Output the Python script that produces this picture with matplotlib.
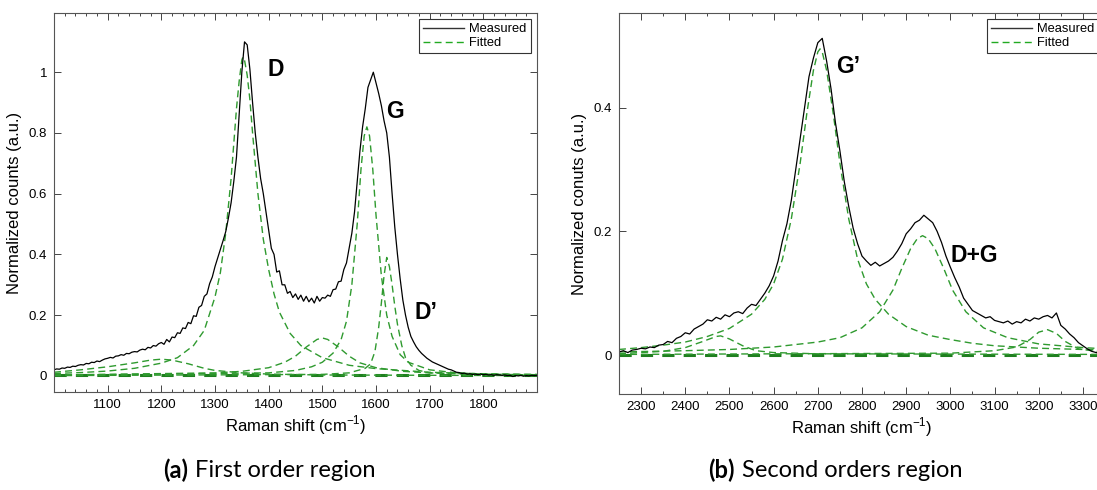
import numpy as np
from matplotlib import pyplot as plt
from matplotlib.ticker import MultipleLocator, FormatStrFormatter

plt.rcParams['font.family'] = ['Liberation Sans', 'DejaVu Sans']
plt.rcParams['mathtext.fontset'] = 'custom'
plt.rcParams['mathtext.rm'] = 'Liberation Sans'

# ---------------- first order region (a) ----------------
meas1_x = np.arange(1000, 1901, 5)
meas1_y = [
    0.020, 0.023, 0.022, 0.026, 0.025, 0.029, 0.028, 0.032, 0.031, 0.035,
    0.037, 0.036, 0.041, 0.040, 0.045, 0.044, 0.049, 0.047, 0.052, 0.056,
    0.058, 0.061, 0.059, 0.065, 0.066, 0.070, 0.068, 0.074, 0.073, 0.078,
    0.080, 0.079, 0.085, 0.088, 0.086, 0.094, 0.092, 0.100, 0.098, 0.106,
    0.110, 0.104, 0.120, 0.112, 0.128, 0.126, 0.142, 0.140, 0.158, 0.156,
    0.176, 0.172, 0.198, 0.196, 0.226, 0.232, 0.262, 0.270, 0.304, 0.326,
    0.360, 0.388, 0.415, 0.445, 0.475, 0.520, 0.570, 0.640, 0.720, 0.860,
    1.000, 1.100, 1.090, 1.010, 0.900, 0.800, 0.720, 0.650, 0.600, 0.540,
    0.480, 0.420, 0.400, 0.342, 0.346, 0.300, 0.300, 0.272, 0.278, 0.258,
    0.270, 0.252, 0.266, 0.246, 0.262, 0.244, 0.256, 0.240, 0.262, 0.246,
    0.258, 0.256, 0.266, 0.262, 0.284, 0.286, 0.310, 0.312, 0.350, 0.372,
    0.420, 0.470, 0.540, 0.640, 0.740, 0.820, 0.880, 0.950, 0.975, 1.000,
    0.965, 0.930, 0.890, 0.840, 0.800, 0.720, 0.600, 0.490, 0.400, 0.320,
    0.250, 0.200, 0.160, 0.130, 0.112, 0.096, 0.084, 0.074, 0.066, 0.058,
    0.052, 0.046, 0.042, 0.038, 0.034, 0.030, 0.026, 0.022, 0.020, 0.016,
    0.012, 0.011, 0.008, 0.009, 0.006, 0.007, 0.005, 0.006, 0.004, 0.006,
    0.004, 0.005, 0.003, 0.004, 0.002, 0.004, 0.003, 0.002, 0.003, 0.001,
    0.002, -0.002, 0.001, 0.000, 0.002, -0.001, 0.001, 0.000, 0.002, 0.001,
    0.002]

# fitted components
d_x = [1000, 1050, 1100, 1150, 1200, 1230, 1260, 1280, 1300, 1310, 1320, 1330, 1340, 1345,
       1350, 1352, 1355, 1360, 1365, 1370, 1380, 1390, 1400, 1410, 1420, 1440, 1460, 1500,
       1550, 1600, 1700, 1800, 1900]
d_y = [0.008, 0.011, 0.016, 0.025, 0.042, 0.060, 0.100, 0.150, 0.260, 0.340, 0.470, 0.650,
       0.880, 0.970, 1.040, 1.050, 1.040, 0.990, 0.910, 0.800, 0.600, 0.450, 0.350, 0.270,
       0.210, 0.140, 0.100, 0.060, 0.035, 0.024, 0.012, 0.007, 0.005]

g_x = [1000, 1400, 1450, 1480, 1500, 1520, 1535, 1545, 1555, 1565, 1572, 1578, 1583, 1588,
       1594, 1600, 1610, 1620, 1630, 1645, 1660, 1700, 1750, 1800, 1900]
g_y = [0.002, 0.010, 0.018, 0.030, 0.045, 0.075, 0.120, 0.180, 0.300, 0.500, 0.680, 0.790,
       0.820, 0.790, 0.680, 0.530, 0.330, 0.200, 0.130, 0.070, 0.045, 0.020, 0.010, 0.006, 0.003]

dp_x = [1000, 1500, 1550, 1580, 1590, 1598, 1605, 1610, 1615, 1620, 1625, 1630, 1635, 1640,
        1648, 1655, 1665, 1680, 1700, 1800, 1900]
dp_y = [0.001, 0.005, 0.010, 0.025, 0.040, 0.080, 0.160, 0.240, 0.330, 0.390, 0.360, 0.300,
        0.230, 0.170, 0.100, 0.060, 0.035, 0.018, 0.010, 0.004, 0.002]

b1500_x = [1000, 1300, 1350, 1400, 1430, 1450, 1470, 1490, 1500, 1510, 1530, 1550, 1570,
           1600, 1650, 1700, 1800, 1900]
b1500_y = [0.003, 0.010, 0.015, 0.027, 0.045, 0.065, 0.095, 0.120, 0.125, 0.120, 0.095,
           0.065, 0.043, 0.027, 0.015, 0.010, 0.006, 0.004]

b1200_x = [1000, 1050, 1100, 1150, 1180, 1200, 1220, 1250, 1280, 1300, 1350, 1400, 1500, 1900]
b1200_y = [0.012, 0.020, 0.030, 0.043, 0.052, 0.055, 0.052, 0.040, 0.025, 0.018, 0.010,
           0.006, 0.003, 0.001]

base1_x = [1000, 1900]
base1_y = [0.002, 0.002]

# ---------------- second order region (b) ----------------
meas2_x = np.arange(2250, 3351, 10)
meas2_y = [
    0.005, 0.007, 0.004, 0.008, 0.009, 0.011, 0.010, 0.013, 0.012, 0.016,
    0.017, 0.022, 0.020, 0.027, 0.030, 0.036, 0.034, 0.042, 0.046, 0.050,
    0.057, 0.055, 0.061, 0.058, 0.065, 0.062, 0.068, 0.070, 0.067, 0.076,
    0.082, 0.080, 0.090, 0.100, 0.112, 0.128, 0.152, 0.185, 0.212, 0.250,
    0.300, 0.350, 0.400, 0.450, 0.480, 0.505, 0.512, 0.475, 0.430, 0.375,
    0.330, 0.280, 0.240, 0.205, 0.180, 0.160, 0.152, 0.145, 0.150, 0.144,
    0.148, 0.152, 0.158, 0.168, 0.180, 0.196, 0.204, 0.214, 0.218, 0.226,
    0.220, 0.214, 0.200, 0.182, 0.160, 0.142, 0.125, 0.110, 0.092, 0.082,
    0.072, 0.068, 0.064, 0.060, 0.062, 0.056, 0.054, 0.052, 0.055, 0.050,
    0.054, 0.052, 0.058, 0.055, 0.060, 0.058, 0.062, 0.064, 0.060, 0.068,
    0.048, 0.042, 0.034, 0.028, 0.020, 0.015, 0.010, 0.006, 0.004, 0.002,
    0.001]

gp_x = [2250, 2300, 2350, 2400, 2450, 2500, 2550, 2580, 2600, 2620, 2640, 2660, 2675, 2690,
        2700, 2705, 2710, 2720, 2735, 2750, 2770, 2790, 2810, 2830, 2860, 2900, 2950, 3000,
        3050, 3100, 3200, 3350]
gp_y = [0.009, 0.012, 0.016, 0.021, 0.030, 0.043, 0.066, 0.090, 0.115, 0.155, 0.220, 0.310,
        0.390, 0.460, 0.490, 0.495, 0.490, 0.460, 0.390, 0.310, 0.220, 0.155, 0.115, 0.090,
        0.066, 0.046, 0.032, 0.025, 0.019, 0.015, 0.011, 0.008]

dg_x = [2250, 2400, 2500, 2600, 2700, 2750, 2800, 2840, 2870, 2890, 2910, 2925, 2937, 2950,
        2965, 2985, 3005, 3035, 3075, 3130, 3200, 3300, 3350]
dg_y = [0.005, 0.007, 0.009, 0.013, 0.021, 0.028, 0.044, 0.070, 0.105, 0.140, 0.172, 0.188,
        0.193, 0.188, 0.172, 0.140, 0.105, 0.070, 0.044, 0.028, 0.018, 0.012, 0.010]

b2480_x = [2250, 2350, 2400, 2440, 2470, 2480, 2500, 2530, 2560, 2600, 2700, 3350]
b2480_y = [0.002, 0.006, 0.012, 0.022, 0.030, 0.031, 0.026, 0.015, 0.007, 0.004, 0.002, 0.001]

b3220_x = [2250, 3000, 3100, 3150, 3180, 3200, 3220, 3240, 3260, 3290, 3350]
b3220_y = [0.001, 0.003, 0.007, 0.013, 0.025, 0.037, 0.041, 0.035, 0.022, 0.010, 0.004]

base2_x = [2250, 3350]
base2_y = [0.0, 0.0]

green = '#2f9a2f'
dark_green = '#1f7f1f'
W, H = 1097, 490

fig = plt.figure(figsize=(W / 100, H / 100), dpi=100)
ax1 = fig.add_axes([54 / W, (H - 392) / H, 483 / W, 379 / H])
ax2 = fig.add_axes([619 / W, (H - 394) / H, 486 / W, 381 / H])


def draw(ax, mx, my, comps, base):
    ax.plot(base[0], base[1], '--', color=dark_green, lw=2.2, dashes=(4, 3))
    for cx, cy in comps:
        ax.plot(cx, cy, '--', color=green, lw=1.0, dashes=(5, 3))
    ax.plot(mx, my, '-', color='black', lw=0.9)
    # legend proxies
    l1, = ax.plot([], [], '-', color='#333333', lw=1.0)
    l2, = ax.plot([], [], '--', color='#22aa22', lw=1.0, dashes=(5, 3))
    leg = ax.legend([l1, l2], ['Measured', 'Fitted'], loc='upper right', fontsize=9.3,
                    fancybox=False, edgecolor='#333333', framealpha=1, borderaxespad=0.5,
                    handlelength=3.2, handletextpad=0.4, borderpad=0.3, labelspacing=0.15)
    leg.get_frame().set_linewidth(0.8)
    ax.tick_params(which='both', direction='in', top=True, right=True, colors='#444444',
                   labelcolor='black', labelsize=9.5, width=0.7)
    ax.tick_params(which='major', length=5, pad=5)
    ax.tick_params(which='minor', length=2.5)
    for s in ax.spines.values():
        s.set_color('#555555')
        s.set_linewidth(0.8)
    ax.set_xlabel('Raman shift (cm$^{-1}$)', fontsize=12, labelpad=2)


draw(ax1, meas1_x, meas1_y,
     [(d_x, d_y), (g_x, g_y), (dp_x, dp_y), (b1500_x, b1500_y), (b1200_x, b1200_y)],
     (base1_x, base1_y))
ax1.set_xlim(1000, 1900)
ax1.set_ylim(-0.053, 1.195)
ax1.set_xticks(range(1100, 1900, 100))
ax1.xaxis.set_minor_locator(MultipleLocator(20))
ax1.set_yticks([0, 0.2, 0.4, 0.6, 0.8, 1])
ax1.yaxis.set_major_formatter(FormatStrFormatter('%g'))
ax1.set_ylabel('Normalized counts (a.u.)', fontsize=12, labelpad=5)
ax1.text(1398, 1.01, 'D', fontsize=16.5, fontweight='bold', ha='left', va='center')
ax1.text(1619, 0.87, 'G', fontsize=16.5, fontweight='bold', ha='left', va='center')
ax1.text(1671, 0.21, 'D\u2019', fontsize=16.5, fontweight='bold', ha='left', va='center')

draw(ax2, meas2_x, meas2_y,
     [(gp_x, gp_y), (dg_x, dg_y), (b2480_x, b2480_y), (b3220_x, b3220_y)],
     (base2_x, base2_y))
ax2.set_xlim(2250, 3350)
ax2.set_ylim(-0.063, 0.553)
ax2.set_xticks(range(2300, 3301, 100))
ax2.xaxis.set_minor_locator(MultipleLocator(50))
ax2.set_yticks([0, 0.2, 0.4])
ax2.yaxis.set_major_formatter(FormatStrFormatter('%g'))
ax2.set_ylabel('Normalized conuts (a.u.)', fontsize=12, labelpad=5)
ax2.text(2741, 0.466, 'G\u2019', fontsize=16.5, fontweight='bold', ha='left', va='center')
ax2.text(3001, 0.161, 'D+G', fontsize=16.5, fontweight='bold', ha='left', va='center')

# captions: bold tag, then regular text right after it
cap = dict(fontsize=17, family=['Lato', 'DejaVu Sans'], va='center')
renderer = fig.canvas.get_renderer()
for x0, tag, rest in [(163, '(a)', 'First order region'), (708, '(b)', 'Second orders region')]:
    t = fig.text(x0 / W, 1 - 470 / H, tag, ha='left', fontweight='bold', **cap)
    bb = t.get_window_extent(renderer)
    fig.text((bb.x1 + 7) / W, 1 - 470 / H, rest, ha='left', **cap)

fig.savefig('out.png', dpi=100)
